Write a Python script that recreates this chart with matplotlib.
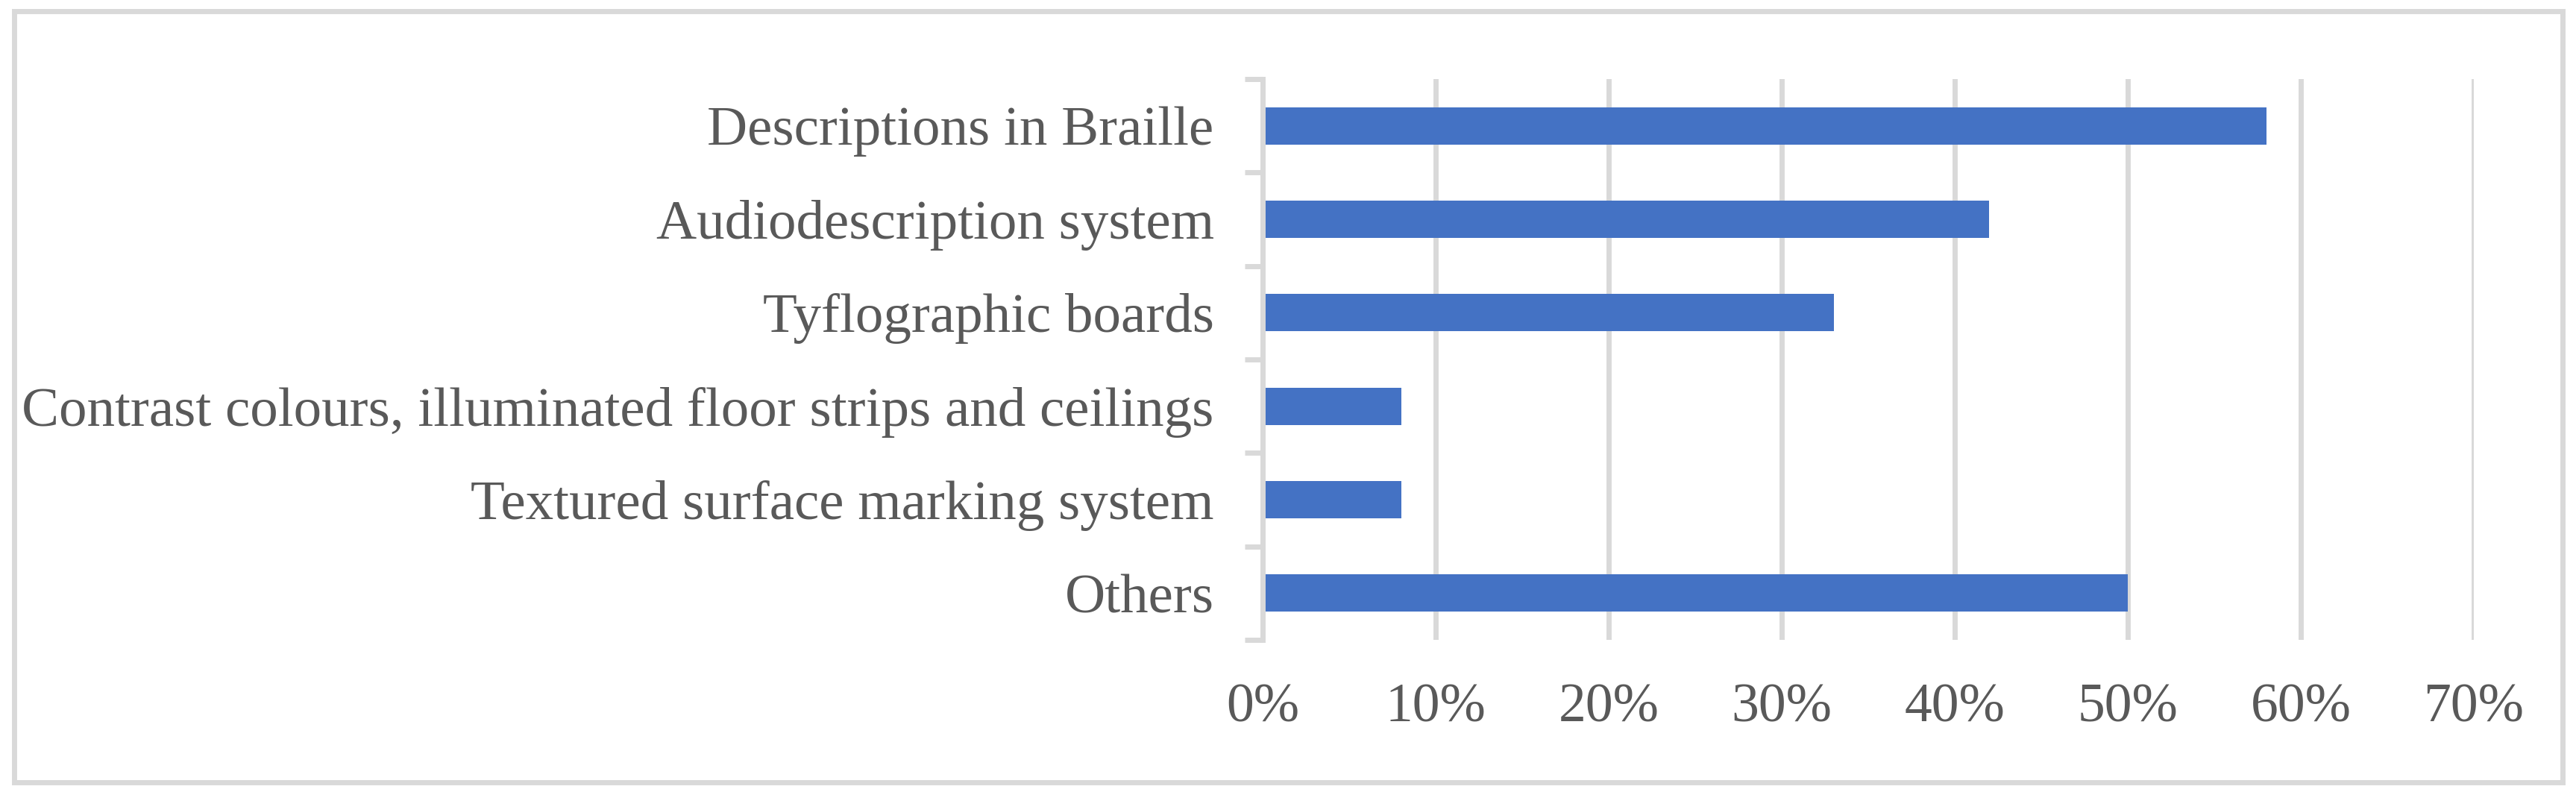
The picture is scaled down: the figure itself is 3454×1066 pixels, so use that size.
import matplotlib
matplotlib.use("Agg")
import matplotlib.pyplot as plt
from matplotlib.patches import Rectangle
from matplotlib.ticker import FuncFormatter, FixedLocator

categories = [
    "Descriptions in Braille",
    "Audiodescription system",
    "Tyflographic boards",
    "Contrast colours, illuminated floor strips and ceilings",
    "Textured surface marking system",
    "Others",
]
values = [58, 42, 33, 8, 8, 50]
x_ticks = [0, 10, 20, 30, 40, 50, 60, 70]

bar_color = "#4472C4"
grid_color = "#D9D9D9"
text_color = "#595959"

plt.rcParams["font.family"] = ["Liberation Serif", "DejaVu Serif"]

DPI = 100
fig = plt.figure(figsize=(3455 / DPI, 1066 / DPI), dpi=DPI)
ax = fig.add_axes([1693 / 3455, 1 - 858 / 1066, (3317 - 1693) / 3455, (858 - 106) / 1066])

pos = list(range(len(categories)))
ax.barh(pos, values, height=0.4, color=bar_color, zorder=3)

ax.set_xlim(0, 70)
ax.set_ylim(len(categories) - 0.5, -0.5)

ax.set_xticks(x_ticks)
ax.xaxis.set_major_formatter(FuncFormatter(lambda v, p: f"{int(v)}%"))
ax.tick_params(axis="x", length=0, pad=42, labelsize=53, labelcolor=text_color)
ax.grid(axis="x", color=grid_color, linewidth=5, zorder=0)

ax.set_yticks(pos)
ax.set_yticklabels(categories)
ax.tick_params(axis="y", which="major", length=0, pad=47, labelsize=54, labelcolor=text_color)
ax.yaxis.set_minor_locator(FixedLocator([p - 0.5 for p in pos] + [len(pos) - 0.5]))
ax.tick_params(axis="y", which="minor", length=17, width=5, color=grid_color)

for s in ["top", "right", "bottom"]:
    ax.spines[s].set_visible(False)
ax.spines["left"].set_color(grid_color)
ax.spines["left"].set_linewidth(5)
ax.spines["left"].set_zorder(4)

# chart border
fig.add_artist(Rectangle((19 / 3455, 1 - 1049 / 1066), (3436 - 19) / 3455, (1049 - 15) / 1066,
                         transform=fig.transFigure, fill=False, edgecolor=grid_color, linewidth=5))

plt.savefig("out.png", dpi=DPI)
